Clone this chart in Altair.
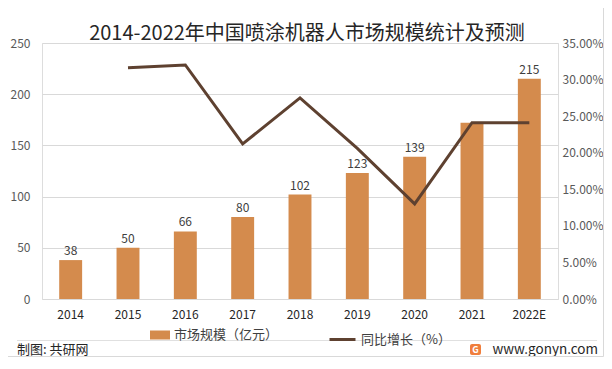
import altair as alt
import pandas as pd

years = ["2014", "2015", "2016", "2017", "2018", "2019", "2020", "2021", "2022E"]
market = [38, 50, 66, 80, 102, 123, 139, 172, 215]
bar_labels = ["38", "50", "66", "80", "102", "123", "139", "", "215"]
growth = [None, 0.316, 0.32, 0.212, 0.275, 0.206, 0.13, 0.241, 0.241]
left_ticks = [0, 50, 100, 150, 200, 250]
right_ticks = [0, 0.05, 0.10, 0.15, 0.20, 0.25, 0.30, 0.35]
title_text = "2014-2022年中国喷涂机器人市场规模统计及预测"
bar_name = "市场规模（亿元）"
line_name = "同比增长（%）"

FONT = "Noto Sans CJK SC"
BAR_COLOR = "#D48B4D"
LINE_COLOR = "#5E4130"

df = pd.DataFrame({
    "year": years,
    "market": market,
    "label": bar_labels,
    "growth": growth,
    "s1": bar_name,
    "s2": line_name,
})

W, H = 516, 256

x_enc = alt.X(
    "year:N", sort=years, title=None,
    scale=alt.Scale(paddingInner=0.6, paddingOuter=0.3),
    axis=alt.Axis(labelAngle=0, labelFontSize=12, labelColor="#262626", labelFont=FONT,
                  domain=False, ticks=False, labelPadding=10, grid=False),
)

y_left = alt.Y(
    "market:Q", title=None,
    scale=alt.Scale(domain=[0, 250], nice=False),
    axis=alt.Axis(values=left_ticks, labelFontSize=12, labelColor="#595959", labelFont=FONT,
                  domain=False, ticks=False, labelPadding=12, grid=True,
                  gridColor="#D9D9D9", gridWidth=1),
)

base = alt.Chart(df)

bars = base.mark_bar().encode(
    x=x_enc,
    y=y_left,
    color=alt.Color("s1:N", scale=alt.Scale(range=[BAR_COLOR]),
                    legend=alt.Legend(title=None, orient="none", legendX=108, legendY=282,
                                      symbolType="M-1,-0.45L1,-0.45L1,0.45L-1,0.45Z",
                                      symbolSize=400, symbolStrokeWidth=0, symbolOpacity=1,
                                      labelFontSize=13, labelColor="#404040", labelFont=FONT)),
)

texts = base.mark_text(dy=-9, fontSize=12, color="#404040", font=FONT).encode(
    x=alt.X("year:N", sort=years),
    y=alt.Y("market:Q", scale=alt.Scale(domain=[0, 250], nice=False)),
    text="label:N",
)

left_layer = alt.layer(bars, texts)

line = base.transform_filter("datum.growth != null").mark_line(strokeWidth=3).encode(
    x=alt.X("year:N", sort=years),
    y=alt.Y("growth:Q", title=None, scale=alt.Scale(domain=[0, 0.35], nice=False),
            axis=alt.Axis(orient="right", values=right_ticks, format=".2%",
                          labelFontSize=12, labelColor="#595959", labelFont=FONT,
                          domain=False, ticks=False, grid=False, labelPadding=4)),
    stroke=alt.Stroke("s2:N", scale=alt.Scale(range=[LINE_COLOR]),
                      legend=alt.Legend(title=None, orient="none", legendX=286, legendY=282,
                                        symbolType="stroke", symbolSize=676,
                                        symbolStrokeWidth=3,
                                        labelFontSize=13, labelColor="#404040", labelFont=FONT)),
)

deco = pd.DataFrame({"t": [title_text]})
title_mark = alt.Chart(deco).mark_text(fontSize=20, color="#262626", font=FONT,
                                       align="center", baseline="middle").encode(
    text="t:N", x=alt.value(265), y=alt.value(-9))

foot = pd.DataFrame({"a": ["制图: 共研网"], "b": ["www.gonyn.com"], "g": ["G"]})
sep = alt.Chart(foot).mark_rule(color="#E0E0E0", strokeWidth=1).encode(
    x=alt.value(-25), x2=alt.value(555), y=alt.value(297.5))
foot_left = alt.Chart(foot).mark_text(fontSize=13, color="#262626", font=FONT,
                                      align="left", baseline="middle").encode(
    text="a:N", x=alt.value(-25), y=alt.value(306.5))
foot_right = alt.Chart(foot).mark_text(fontSize=13.5, color="#262626", font=FONT,
                                       align="right", baseline="middle").encode(
    text="b:N", x=alt.value(556), y=alt.value(306.5))
logo = alt.Chart(foot).mark_rect(color="#F07E3C", cornerRadius=2).encode(
    x=alt.value(428), x2=alt.value(439), y=alt.value(301), y2=alt.value(312))
logo_t = alt.Chart(foot).mark_text(fontSize=9, color="white", font=FONT, fontWeight="bold",
                                   align="center", baseline="middle").encode(
    text="g:N", x=alt.value(433.5), y=alt.value(307))
border = alt.Chart(foot).mark_rect(fill="transparent", stroke="#D9D9D9", strokeWidth=1).encode(
    x=alt.value(-38), x2=alt.value(561.5), y=alt.value(-41), y2=alt.value(313.5))

chart = alt.layer(
    left_layer, line, title_mark, sep, foot_left, foot_right, logo, logo_t, border
).resolve_scale(
    y="independent"
).properties(
    width=W, height=H,
    autosize=alt.AutoSizeParams(type="none"),
    padding={"left": 34, "top": 35, "right": 46, "bottom": 58},
).configure_view(
    stroke=None
).configure(
    background="white"
)

chart.save("out.html", embed_options={"renderer": "svg", "actions": False})
